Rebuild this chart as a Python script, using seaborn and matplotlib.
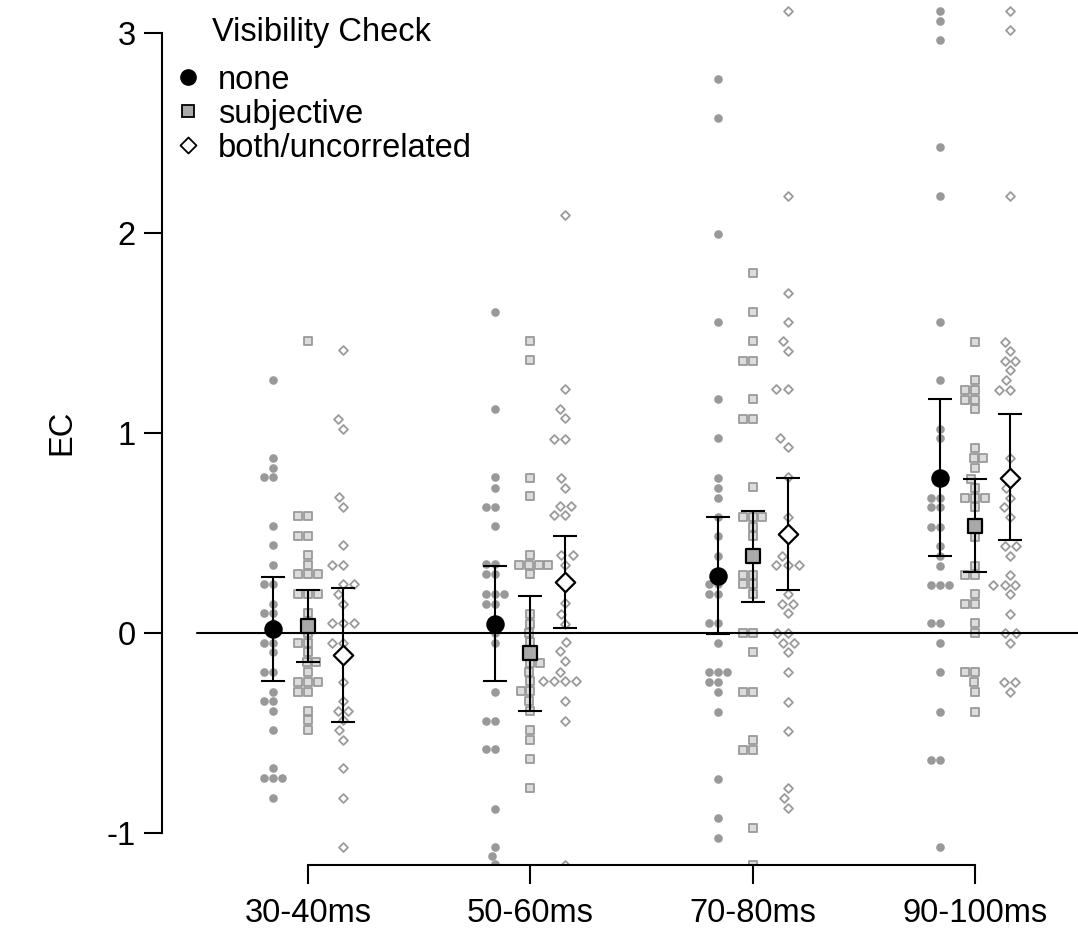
import numpy as np
import pandas as pd
import matplotlib
matplotlib.use("Agg")
import matplotlib.pyplot as plt
import seaborn as sns
from matplotlib.path import Path
from matplotlib.lines import Line2D

# ---------------- data ----------------
groups = ["30-40ms", "50-60ms", "70-80ms", "90-100ms"]
conditions = ["none", "subjective", "both/uncorrelated"]

none_30 = [1.265, 0.873, 0.827, 0.778, 0.778, 0.537, 0.438, 0.342, 0.245, 0.245, 0.147, 0.098, 0.098,
           0.05, 0.0, -0.048, -0.048, -0.097, -0.193, -0.193, -0.293, -0.34, -0.34, -0.388, -0.485,
           -0.677, -0.727, -0.727, -0.727, -0.827]
subj_30 = [1.46, 0.585, 0.585, 0.487, 0.487, 0.39, 0.342, 0.293, 0.293, 0.293, 0.195, 0.195, 0.195,
           0.098, 0.0, -0.048, -0.048, -0.097, -0.147, -0.147, -0.193, -0.243, -0.243, -0.243,
           -0.293, -0.293, -0.388, -0.435, -0.485]
both_30 = [1.415, 1.068, 1.02, 0.682, 0.632, 0.44, 0.342, 0.342, 0.245, 0.245, 0.195, 0.147, 0.048,
           0.048, 0.048, -0.048, -0.048, -0.11, -0.243, -0.34, -0.388, -0.388, -0.435, -0.485,
           -0.535, -0.677, -0.827, -1.068]

none_50 = [1.604, 1.118, 0.781, 0.727, 0.629, 0.629, 0.537, 0.343, 0.343, 0.293, 0.293, 0.195, 0.195,
           0.195, 0.145, 0.145, 0.047, 0.0, -0.051, -0.296, -0.438, -0.438, -0.582, -0.582, -0.88,
           -1.068, -1.115, -1.155]
subj_50 = [1.458, 1.366, 0.777, 0.684, 0.389, 0.339, 0.339, 0.339, 0.339, 0.293, 0.097, 0.047, 0.0,
           -0.046, -0.1, -0.148, -0.148, -0.194, -0.24, -0.292, -0.292, -0.342, -0.388, -0.487,
           -0.536, -0.628, -0.777]
both_50 = [2.09, 1.218, 1.12, 1.073, 0.971, 0.971, 0.777, 0.727, 0.634, 0.634, 0.588, 0.588, 0.389,
           0.389, 0.339, 0.25, 0.148, 0.097, 0.047, -0.046, -0.092, -0.139, -0.194, -0.24, -0.24,
           -0.24, -0.24, -0.342, -0.438, -1.16]

none_70 = [2.77, 2.577, 1.993, 1.557, 1.168, 0.973, 0.773, 0.727, 0.677, 0.582, 0.485, 0.387, 0.243,
           0.243, 0.195, 0.195, 0.048, 0.048, -0.048, -0.197, -0.197, -0.197, -0.243, -0.243,
           -0.293, -0.393, -0.732, -0.927, -1.023]
subj_70 = [1.798, 1.603, 1.46, 1.362, 1.362, 1.168, 1.07, 1.07, 0.728, 0.582, 0.582, 0.582, 0.532,
           0.485, 0.385, 0.29, 0.29, 0.243, 0.243, 0.195, 0.0, 0.0, -0.097, -0.293, -0.293, -0.535,
           -0.585, -0.585, -0.973, -1.16]
both_70 = [3.11, 2.187, 1.702, 1.557, 1.46, 1.412, 1.218, 1.218, 0.973, 0.932, 0.782, 0.582, 0.387,
           0.34, 0.34, 0.34, 0.195, 0.145, 0.145, 0.098, 0.0, 0.0, -0.048, -0.048, -0.097, -0.197,
           -0.343, -0.488, -0.777, -0.827, -0.877]

none_90 = [3.11, 3.06, 2.965, 2.432, 2.187, 1.555, 1.265, 1.02, 0.973, 0.677, 0.677, 0.628, 0.628,
           0.532, 0.532, 0.435, 0.385, 0.337, 0.24, 0.24, 0.24, 0.048, 0.048, -0.048, -0.197,
           -0.393, -0.635, -0.635, -1.072]
subj_90 = [1.457, 1.265, 1.215, 1.215, 1.165, 1.165, 1.118, 0.923, 0.873, 0.873, 0.827, 0.77, 0.727,
           0.677, 0.677, 0.677, 0.628, 0.535, 0.482, 0.337, 0.29, 0.29, 0.193, 0.143, 0.143, 0.048,
           0.0, -0.197, -0.197, -0.247, -0.293, -0.393]
both_90 = [3.11, 3.015, 2.187, 1.457, 1.41, 1.362, 1.362, 1.315, 1.265, 1.215, 1.215, 0.873, 0.777,
           0.727, 0.677, 0.628, 0.582, 0.435, 0.435, 0.387, 0.29, 0.24, 0.24, 0.24, 0.193, 0.095,
           0.0, 0.0, -0.048, -0.247, -0.247, -0.293]

# condition means and confidence limits
mean_none = [0.02, 0.047, 0.287, 0.777]
low_none = [-0.24, -0.24, -0.005, 0.385]
high_none = [0.28, 0.337, 0.582, 1.168]
mean_subj = [0.037, -0.10, 0.385, 0.535]
low_subj = [-0.147, -0.389, 0.157, 0.303]
high_subj = [0.215, 0.185, 0.61, 0.77]
mean_both = [-0.11, 0.254, 0.493, 0.777]
low_both = [-0.447, 0.024, 0.215, 0.465]
high_both = [0.223, 0.485, 0.777, 1.093]

y_ticks = [-1, 0, 1, 2, 3]
y_tick_labels = ["-1", "0", "1", "2", "3"]

# ---------------- assemble ----------------
raw = {
    "none": [none_30, none_50, none_70, none_90],
    "subjective": [subj_30, subj_50, subj_70, subj_90],
    "both/uncorrelated": [both_30, both_50, both_70, both_90],
}
summ = {
    "none": (mean_none, low_none, high_none),
    "subjective": (mean_subj, low_subj, high_subj),
    "both/uncorrelated": (mean_both, low_both, high_both),
}
offset = {"none": -0.157, "subjective": 0.0, "both/uncorrelated": 0.157}

rows = []
for c in conditions:
    for gi, vals in enumerate(raw[c]):
        for v in vals:
            rows.append({"group": groups[gi], "cond": c, "pos": gi + 1 + offset[c], "EC": v})
df = pd.DataFrame(rows)

# ---------------- style ----------------
sns.set_style("ticks")
plt.rcParams["font.family"] = ["Liberation Sans", "DejaVu Sans"]
plt.rcParams["axes.unicode_minus"] = False
plt.rcParams["text.color"] = "black"
plt.rcParams["axes.labelcolor"] = "black"
FS = 23.5

diamond = Path([(0, 1), (1, 0), (0, -1), (-1, 0), (0, 1)],
               [Path.MOVETO, Path.LINETO, Path.LINETO, Path.LINETO, Path.CLOSEPOLY])

pt_style = {
    "none": dict(marker="o", size=6.2, color="#999999", edgecolor="#999999", linewidth=0),
    "subjective": dict(marker="s", size=5.4, color="#dcdcdc", edgecolor="#9a9a9a", linewidth=1.3),
    "both/uncorrelated": dict(marker=diamond, size=6.4, color="white", edgecolor="#9a9a9a", linewidth=1.3),
}
mean_style = {
    "none": dict(marker="o", s=12.3 ** 2, color="black", edgecolors="black", linewidths=1.0),
    "subjective": dict(marker="s", s=9.6 ** 2, color="#a9a9a9", edgecolors="black", linewidths=1.6),
    "both/uncorrelated": dict(marker=diamond, s=14.0 ** 2, color="white", edgecolors="black", linewidths=1.6),
}

W, H = 1078, 942
fig = plt.figure(figsize=(W / 100, H / 100), dpi=100)
ax_left, ax_bottom_px = 162, 865
ax = fig.add_axes([ax_left / W, (H - ax_bottom_px) / H, (W - ax_left) / W, ax_bottom_px / H])

for c in conditions:
    sub = df[df["cond"] == c]
    sns.swarmplot(data=sub, x="pos", y="EC", native_scale=True, orient="x", ax=ax,
                  zorder=2, **pt_style[c])

xlim = (0.3433, 4.463)
ylim = (-1.16, 3.165)
ax.set_xlim(*xlim)
ax.set_ylim(*ylim)

# zero reference line (starts half a group left of the first group)
ax.axhline(0, xmin=(0.5 - xlim[0]) / (xlim[1] - xlim[0]), xmax=1, color="black", lw=1.5, zorder=4)

xs = np.arange(1, len(groups) + 1)
for c in conditions:
    m, lo, hi = (np.array(a) for a in summ[c])
    ax.errorbar(xs + offset[c], m, yerr=[m - lo, hi - m], fmt="none", ecolor="black",
                elinewidth=1.5, capsize=8.6, capthick=1.5, zorder=5)
    ax.scatter(xs + offset[c], m, zorder=6, **mean_style[c])

for s in ["top", "right"]:
    ax.spines[s].set_visible(False)
ax.spines["left"].set_bounds(-1, 3)
ax.spines["bottom"].set_bounds(1, len(groups))
for s in ["left", "bottom"]:
    ax.spines[s].set_linewidth(1.5)
    ax.spines[s].set_color("black")

ax.set_yticks(y_ticks)
ax.set_yticklabels(y_tick_labels)
ax.set_xticks(xs)
ax.set_xticklabels(groups)
ax.tick_params(axis="y", length=13, width=1.5, pad=6, labelsize=FS, colors="black")
ax.tick_params(axis="x", length=14, width=1.5, pad=10, labelsize=FS, colors="black")
ax.set_xlabel("")
ax.set_ylabel("EC", fontsize=FS, color="black")
ax.yaxis.set_label_coords(-0.092, 0.5)

handles = [
    Line2D([], [], ls="", marker="o", markersize=11, color="black"),
    Line2D([], [], ls="", marker="s", markersize=8.8, markerfacecolor="#a9a9a9",
           markeredgecolor="black", markeredgewidth=1.3),
    Line2D([], [], ls="", marker=diamond, markersize=11.5, markerfacecolor="white",
           markeredgecolor="black", markeredgewidth=1.3),
]
leg = ax.legend(handles, conditions, title="Visibility Check", loc="upper left",
                bbox_to_anchor=(172 / W, 1 - 17 / H), bbox_transform=fig.transFigure,
                frameon=False, fontsize=FS, title_fontsize=FS, handlelength=1.0,
                handletextpad=0.4, labelspacing=0.09, borderpad=0, borderaxespad=0,
                labelcolor="black")
leg.get_title().set_color("black")
leg._legend_box.sep = 12
leg.set_zorder(10)

fig.savefig("out.png", dpi=100)
